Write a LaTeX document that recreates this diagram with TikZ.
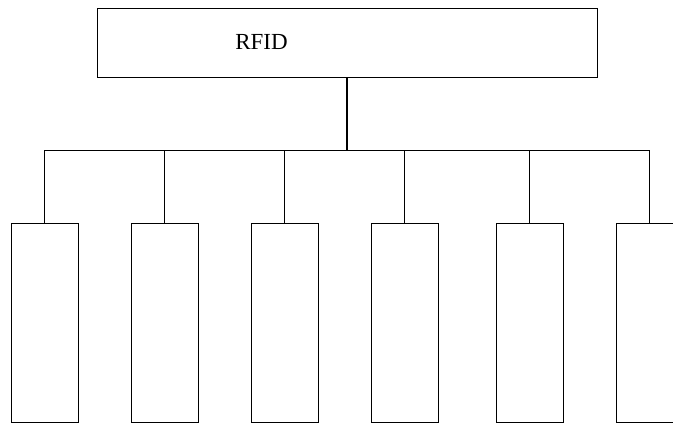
\documentclass[tikz,border=0pt]{standalone}
\usepackage{fontspec}
\setmainfont{Liberation Serif}
\begin{document}
\begin{tikzpicture}[x=1pt,y=1pt]
			\tikzstyle{top} = [draw, line width=0.8pt, shape=rectangle, minimum width=500pt, minimum height=69pt, inner sep=0pt]
			\tikzstyle{leaf} = [draw, line width=0.8pt, shape=rectangle, minimum width=67pt, minimum height=199pt, inner sep=0pt]
			\tikzstyle{conn} = [draw, line width=1.6pt]
			\useasboundingbox (-347,42.5) rectangle (326,-380.5);
			\node[top, label={[xshift=-85.5pt, yshift=1pt, font=\fontsize{23}{28}\selectfont]center:RFID}] (rfid) at (0,0) {};
			\foreach \i/\x in {1/-302.5, 2/-182.5, 3/-62.5, 4/57.5, 5/182.5, 6/302.5}
				\node[leaf] (c\i) at (\x,-280) {};
			\foreach \i in {1,...,6}
				\path[conn] (rfid.south) -- +(0pt,-73pt) -| (c\i.north);
		\end{tikzpicture}
\end{document}
